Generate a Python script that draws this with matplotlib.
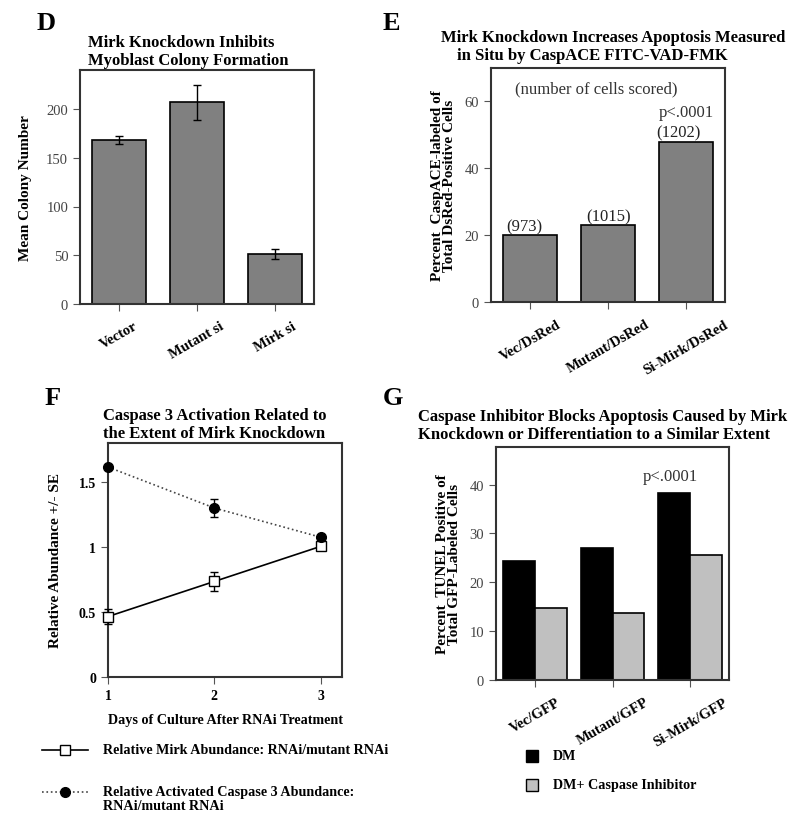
import numpy as np
import matplotlib
matplotlib.use("Agg")
from matplotlib import pyplot as plt
from matplotlib.lines import Line2D

plt.rcParams['font.family'] = ['Liberation Serif', 'DejaVu Serif']

# Panel D data
d_cats = ['Vector', 'Mutant si', 'Mirk si']
d_vals = [168, 207, 51]
d_err = [4, 18, 5]

# Panel E data
e_cats = ['Vec/DsRed', 'Mutant/DsRed', 'Si-Mirk/DsRed']
e_vals = [20, 23, 48]
e_counts = ['(973)', '(1015)', '(1202)']

# Panel F data
f_days = [1, 2, 3]
f_mirk = [0.465, 0.735, 1.005]
f_mirk_err = [0.055, 0.07, 0.0]
f_casp = [1.615, 1.30, 1.075]
f_casp_err = [0.0, 0.07, 0.0]

# Panel G data
g_cats = ['Vec/GFP', 'Mutant/GFP', 'Si-Mirk/GFP']
g_dm = [24.4, 27.1, 38.3]
g_inhib = [14.75, 13.65, 25.5]

W, H = 800, 837
fig = plt.figure(figsize=(W / 100, H / 100), dpi=100)


def px_axes(l, r, t, b):
    return fig.add_axes([l / W, 1 - b / H, (r - l) / W, (b - t) / H])


def ftext(x, y, s, **kw):
    fig.text(x / W, 1 - y / H, s, **kw)


def style(ax, bold_ticks=False):
    for sp in ax.spines.values():
        sp.set_linewidth(1.5)
        sp.set_color('#333333')
    ax.tick_params(direction='out', length=5, width=0.8, color='#555555')
    if bold_ticks:
        ax.tick_params(labelsize=10, labelcolor='black')
        for lab in ax.get_xticklabels() + ax.get_yticklabels():
            lab.set_fontweight('bold')
    else:
        ax.tick_params(axis='y', labelsize=10.5, labelcolor='#444444')


def cat_xticks(ax, cats):
    ax.set_xticks(range(len(cats)))
    ax.set_xticklabels(cats, rotation=30, ha='center', fontweight='bold',
                       fontsize=10.5)
    ax.tick_params(axis='x', pad=6)


title_kw = dict(fontweight='bold', fontsize=12, va='center', ha='left')
leg_kw = dict(fontweight='bold', fontsize=10.2, va='center', ha='left')

# ---------- Panel D ----------
ax = px_axes(80, 314, 71, 305)
x = np.arange(len(d_cats))
ax.bar(x, d_vals, width=0.68, color='#808080', edgecolor='black', linewidth=1.2)
ax.errorbar(x, d_vals, yerr=d_err, fmt='none', ecolor='black', elinewidth=1,
            capsize=3)
ax.set_xlim(-0.5, 2.5)
ax.set_ylim(0, 240)
ax.set_yticks([0, 50, 100, 150, 200])
ax.set_ylabel('Mean Colony Number', fontweight='bold', fontsize=11, labelpad=10)
cat_xticks(ax, d_cats)
style(ax)
ftext(37, 24, 'D', fontsize=19, fontweight='bold', va='center')
ftext(88, 43, 'Mirk Knockdown Inhibits', **title_kw)
ftext(88, 61, 'Myoblast Colony Formation', **title_kw)

# ---------- Panel E ----------
ax = px_axes(491, 725, 69, 303)
x = np.arange(len(e_cats))
ax.bar(x, e_vals, width=0.68, color='#808080', edgecolor='black', linewidth=1.2)
ax.set_xlim(-0.5, 2.5)
ax.set_ylim(0, 70)
ax.set_yticks([0, 20, 40, 60])
ax.set_ylabel('Percent  CaspACE-labeled of\nTotal DsRed-Positive Cells',
              fontweight='bold', fontsize=11, labelpad=6, linespacing=0.95)
cat_xticks(ax, e_cats)
style(ax)
ax.text(0.85, 64, '(number of cells scored)', ha='center', va='center',
        fontsize=12, color='#333333')
offs = [-0.07, 0.01, -0.1]
for i in range(3):
    ax.text(x[i] + offs[i], e_vals[i] + 0.2, e_counts[i], ha='center',
            va='bottom', fontsize=12, color='#222222')
ax.text(2.0, 54.5, 'p<.0001', ha='center', va='bottom', fontsize=12,
        color='#333333')
ftext(383, 24, 'E', fontsize=19, fontweight='bold', va='center')
ftext(441, 38, 'Mirk Knockdown Increases Apoptosis Measured', **title_kw)
ftext(457, 56, 'in Situ by CaspACE FITC-VAD-FMK', **title_kw)

# ---------- Panel F ----------
ax = px_axes(108, 342, 444, 678)
ax.errorbar(f_days, f_mirk, yerr=f_mirk_err, color='black', linewidth=1.2,
            marker='s', markersize=6.5, markerfacecolor='white',
            markeredgecolor='black', markeredgewidth=1, capsize=3,
            elinewidth=1, zorder=3)
ax.errorbar(f_days, f_casp, yerr=f_casp_err, color='#444444', linestyle=':',
            linewidth=1.2, marker='o', markersize=7, markerfacecolor='black',
            markeredgecolor='black', capsize=3, elinewidth=1, ecolor='black',
            zorder=3)
ax.set_xlim(1, 3.2)
ax.set_ylim(0, 1.8)
ax.set_xticks([1, 2, 3])
ax.set_yticks([0, 0.5, 1, 1.5])
ax.set_yticklabels(['0', '0.5', '1', '1.5'])
ax.set_xlabel('Days of Culture After RNAi Treatment', fontweight='bold',
              fontsize=10.2, labelpad=8)
ax.set_ylabel('Relative Abundance +/- SE', fontweight='bold', fontsize=11,
              labelpad=12)
for c in ax.collections:
    c.set_clip_on(False)
for l in ax.lines:
    l.set_clip_on(False)
style(ax, bold_ticks=True)
ftext(45, 399, 'F', fontsize=19, fontweight='bold', va='center')
ftext(103, 416, 'Caspase 3 Activation Related to', **title_kw)
ftext(103, 434, 'the Extent of Mirk Knockdown', **title_kw)

# legend for F drawn as figure lines
fig.add_artist(Line2D([42 / W, 88 / W], [1 - 751 / H] * 2, color='black',
                      linewidth=1.2))
fig.add_artist(Line2D([65 / W], [1 - 751 / H], marker='s', markersize=6.5,
                      markerfacecolor='white', markeredgecolor='black',
                      linestyle='none'))
fig.add_artist(Line2D([42 / W, 88 / W], [1 - 793 / H] * 2, color='#444444',
                      linewidth=1.2, linestyle=':'))
fig.add_artist(Line2D([65 / W], [1 - 793 / H], marker='o', markersize=7,
                      markerfacecolor='black', markeredgecolor='black',
                      linestyle='none'))
ftext(103, 751, 'Relative Mirk Abundance: RNAi/mutant RNAi', **leg_kw)
ftext(103, 793, 'Relative Activated Caspase 3 Abundance:', **leg_kw)
ftext(103, 807, 'RNAi/mutant RNAi', **leg_kw)

# ---------- Panel G ----------
ax = px_axes(496, 729, 448, 681)
x = np.arange(len(g_cats))
bw = 0.41
ax.bar(x - bw / 2, g_dm, width=bw, color='black', edgecolor='black',
       linewidth=1.2)
ax.bar(x + bw / 2, g_inhib, width=bw, color='#c0c0c0', edgecolor='black',
       linewidth=1.2)
ax.set_xlim(-0.5, 2.5)
ax.set_ylim(0, 47.7)
ax.set_yticks([0, 10, 20, 30, 40])
ax.set_ylabel('Percent  TUNEL Positive of\nTotal GFP-Labeled Cells',
              fontweight='bold', fontsize=11, labelpad=6, linespacing=0.95)
cat_xticks(ax, g_cats)
style(ax)
ax.text(1.75, 40.2, 'p<.0001', ha='center', va='bottom', fontsize=12,
        color='#333333')
ftext(383, 399, 'G', fontsize=19, fontweight='bold', va='center')
ftext(418, 417, 'Caspase Inhibitor Blocks Apoptosis Caused by Mirk', **title_kw)
ftext(418, 435, 'Knockdown or Differentiation to a Similar Extent', **title_kw)

fig.add_artist(Line2D([532 / W], [1 - 757 / H], marker='s', markersize=9,
                      markerfacecolor='black', markeredgecolor='black',
                      linestyle='none'))
fig.add_artist(Line2D([532 / W], [1 - 786 / H], marker='s', markersize=9,
                      markerfacecolor='#c0c0c0', markeredgecolor='black',
                      linestyle='none'))
ftext(553, 757, 'DM', **leg_kw)
ftext(553, 786, 'DM+ Caspase Inhibitor', **leg_kw)

fig.savefig('out.png', dpi=100)
